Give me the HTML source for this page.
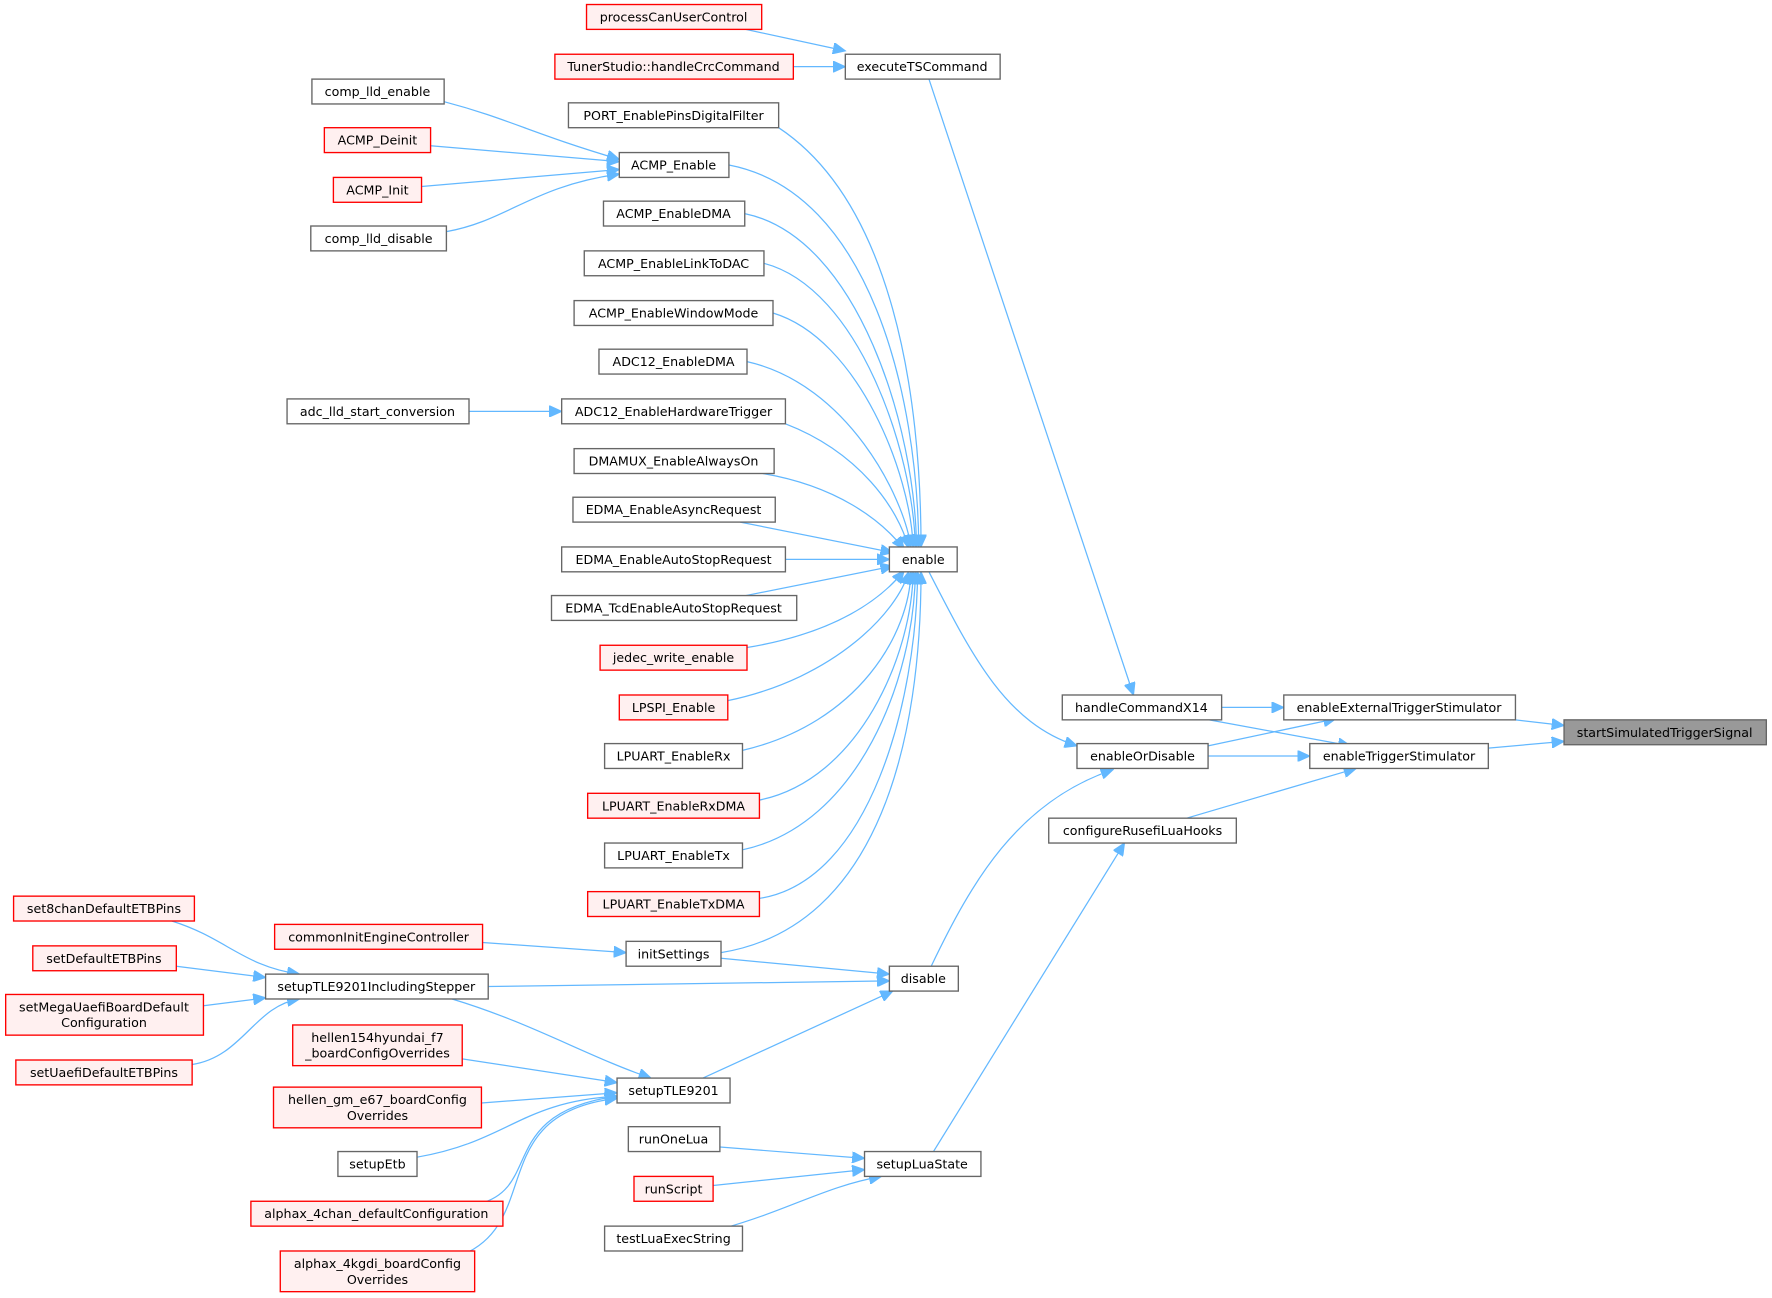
<!DOCTYPE html>
<html><head><meta charset="utf-8"><style>
html,body{margin:0;padding:0;background:#fff;}
svg{display:block;}
text{font-family:"DejaVu Sans","Liberation Sans",sans-serif;font-size:11.2px;fill:#000;text-anchor:middle;}
.n{fill:#fff;stroke:#666;stroke-width:1.2;}
.r{fill:#fff0f0;stroke:#f00;stroke-width:1.2;}
.g{fill:#999;stroke:#666;stroke-width:1.2;}
.e{fill:none;stroke:#63b8ff;stroke-width:1.1;marker-end:url(#a);}
</style></head><body>
<svg width="1772" height="1298" viewBox="0 0 1568 1148.6" xmlns="http://www.w3.org/2000/svg">
<defs><marker id="a" markerUnits="userSpaceOnUse" markerWidth="12" markerHeight="10" refX="11" refY="5" orient="auto"><path d="M0,0 L11,5 L0,10 z" fill="#63b8ff" stroke="#63b8ff"/></marker></defs>

<!-- edges -->
<path class="e" d="M660,26 L748,45"/>
<path class="e" d="M702,59 L748,59"/>
<path class="e" d="M822,70 L1003,615"/>
<path class="e" d="M393,90 C450,105 470,118 548,141"/>
<path class="e" d="M381,129 L548,143"/>
<path class="e" d="M373,165 L548,150"/>
<path class="e" d="M395,205 C450,195 470,165 548,154"/>
<path class="e" d="M415,364 L497,364"/>
<path class="e" d="M689,113 C790,180 815,350 815,484"/>
<path class="e" d="M645,146 C770,170 812,350 813,484"/>
<path class="e" d="M659,189 C760,210 810,380 811,484"/>
<path class="e" d="M676,233 C760,255 808,400 810,484"/>
<path class="e" d="M684,277 C760,300 806,420 808,484"/>
<path class="e" d="M661,320 C750,340 800,440 806,484"/>
<path class="e" d="M695,375 C760,400 795,450 804,485"/>
<path class="e" d="M675,419 C740,430 780,460 800,486"/>
<path class="e" d="M655,462 L790,489"/>
<path class="e" d="M695,495 L787,495"/>
<path class="e" d="M655,528 L790,501"/>
<path class="e" d="M661,573 C740,560 780,530 800,505"/>
<path class="e" d="M644,620 C740,600 795,540 804,506"/>
<path class="e" d="M657,664 C760,640 805,560 806,506"/>
<path class="e" d="M672,708 C760,690 807,580 808,506"/>
<path class="e" d="M657,752 C760,730 809,600 810,506"/>
<path class="e" d="M672,795 C770,780 811,620 812,506"/>
<path class="e" d="M638,843 C780,820 815,650 815,506"/>
<path class="e" d="M822,506 C860,580 890,640 953,660"/>
<path class="e" d="M824,855 C860,780 900,710 985,681"/>
<path class="e" d="M1081,626 L1136,626"/>
<path class="e" d="M1070,637 L1195,660"/>
<path class="e" d="M1069,660 L1182,636"/>
<path class="e" d="M1069,669 L1159,669"/>
<path class="e" d="M1050,724 L1200,680"/>
<path class="e" d="M1341,637 L1384,642"/>
<path class="e" d="M1317,662 L1384,656"/>
<path class="e" d="M826,1019 L995,746"/>
<path class="e" d="M152,815 C200,830 215,855 265,862"/>
<path class="e" d="M156,855 L235,865"/>
<path class="e" d="M180,890 L235,883"/>
<path class="e" d="M170,942 C215,935 225,890 265,884"/>
<path class="e" d="M427,834 L554,843"/>
<path class="e" d="M638,848 L787,862"/>
<path class="e" d="M432,873 L787,868"/>
<path class="e" d="M622,954 L790,877"/>
<path class="e" d="M400,884 C470,905 520,935 576,954"/>
<path class="e" d="M409,937 L546,958"/>
<path class="e" d="M426,976 L546,967"/>
<path class="e" d="M369,1024 C450,1010 460,975 546,970"/>
<path class="e" d="M425,1065 C480,1050 440,985 546,970"/>
<path class="e" d="M410,1110 C480,1080 430,985 546,972"/>
<path class="e" d="M637,1015 L765,1025"/>
<path class="e" d="M631,1049 L765,1035"/>
<path class="e" d="M640,1087 C700,1070 730,1050 780,1041"/>

<!-- nodes -->
<g>
<rect class="r" x="519" y="4" width="155" height="22"/><text x="596" y="19">processCanUserControl</text>
<rect class="r" x="491" y="48" width="211" height="22"/><text x="596" y="63">TunerStudio::handleCrcCommand</text>
<rect class="n" x="748" y="48" width="137" height="22"/><text x="816" y="63">executeTSCommand</text>
<rect class="n" x="503" y="91" width="186" height="22"/><text x="596" y="106">PORT_EnablePinsDigitalFilter</text>
<rect class="n" x="276" y="70" width="117" height="22"/><text x="334" y="85">comp_lld_enable</text>
<rect class="r" x="287" y="113" width="94" height="22"/><text x="334" y="128">ACMP_Deinit</text>
<rect class="r" x="295" y="157" width="78" height="22"/><text x="334" y="172">ACMP_Init</text>
<rect class="n" x="275" y="200" width="120" height="22"/><text x="335" y="215">comp_lld_disable</text>
<rect class="n" x="548" y="135" width="97" height="22"/><text x="596" y="150">ACMP_Enable</text>
<rect class="n" x="534" y="178" width="125" height="22"/><text x="596" y="193">ACMP_EnableDMA</text>
<rect class="n" x="517" y="222" width="159" height="22"/><text x="596" y="237">ACMP_EnableLinkToDAC</text>
<rect class="n" x="508" y="266" width="176" height="22"/><text x="596" y="281">ACMP_EnableWindowMode</text>
<rect class="n" x="530" y="309" width="131" height="22"/><text x="596" y="324">ADC12_EnableDMA</text>
<rect class="n" x="254" y="353" width="161" height="22"/><text x="334" y="368">adc_lld_start_conversion</text>
<rect class="n" x="497" y="353" width="198" height="22"/><text x="596" y="368">ADC12_EnableHardwareTrigger</text>
<rect class="n" x="508" y="397" width="177" height="22"/><text x="596" y="412">DMAMUX_EnableAlwaysOn</text>
<rect class="n" x="507" y="440" width="179" height="22"/><text x="596" y="455">EDMA_EnableAsyncRequest</text>
<rect class="n" x="497" y="484" width="198" height="22"/><text x="596" y="499">EDMA_EnableAutoStopRequest</text>
<rect class="n" x="488" y="527" width="217" height="22"/><text x="596" y="542">EDMA_TcdEnableAutoStopRequest</text>
<rect class="r" x="531" y="571" width="130" height="22"/><text x="596" y="586">jedec_write_enable</text>
<rect class="r" x="548" y="615" width="96" height="22"/><text x="596" y="630">LPSPI_Enable</text>
<rect class="n" x="535" y="658" width="122" height="22"/><text x="596" y="673">LPUART_EnableRx</text>
<rect class="r" x="520" y="702" width="152" height="22"/><text x="596" y="717">LPUART_EnableRxDMA</text>
<rect class="n" x="535" y="746" width="122" height="22"/><text x="596" y="761">LPUART_EnableTx</text>
<rect class="r" x="520" y="789" width="152" height="22"/><text x="596" y="804">LPUART_EnableTxDMA</text>
<rect class="n" x="787" y="484" width="60" height="22"/><text x="817" y="499">enable</text>
<rect class="n" x="940" y="615" width="141" height="22"/><text x="1010" y="630">handleCommandX14</text>
<rect class="n" x="953" y="658" width="116" height="22"/><text x="1011" y="673">enableOrDisable</text>
<rect class="n" x="1136" y="615" width="205" height="22"/><text x="1238" y="630">enableExternalTriggerStimulator</text>
<rect class="n" x="1159" y="658" width="158" height="22"/><text x="1238" y="673">enableTriggerStimulator</text>
<rect class="g" x="1384" y="637" width="179" height="22"/><text x="1473" y="652">startSimulatedTriggerSignal</text>
<rect class="n" x="928" y="724" width="166" height="22"/><text x="1011" y="739">configureRusefiLuaHooks</text>
<rect class="r" x="12" y="793" width="160" height="22"/><text x="92" y="808">set8chanDefaultETBPins</text>
<rect class="r" x="29" y="837" width="127" height="22"/><text x="92" y="852">setDefaultETBPins</text>
<rect class="r" x="5" y="880" width="175" height="36"/><text x="92" y="895">setMegaUaefiBoardDefault</text><text x="92" y="909">Configuration</text>
<rect class="r" x="14" y="938" width="156" height="22"/><text x="92" y="953">setUaefiDefaultETBPins</text>
<rect class="r" x="243" y="818" width="184" height="22"/><text x="335" y="833">commonInitEngineController</text>
<rect class="n" x="554" y="833" width="84" height="22"/><text x="596" y="848">initSettings</text>
<rect class="n" x="235" y="862" width="197" height="22"/><text x="333" y="877">setupTLE9201IncludingStepper</text>
<rect class="n" x="787" y="855" width="61" height="22"/><text x="817" y="870">disable</text>
<rect class="r" x="259" y="907" width="150" height="36"/><text x="334" y="922">hellen154hyundai_f7</text><text x="334" y="936">_boardConfigOverrides</text>
<rect class="r" x="242" y="962" width="184" height="36"/><text x="334" y="977">hellen_gm_e67_boardConfig</text><text x="334" y="991">Overrides</text>
<rect class="n" x="546" y="954" width="100" height="22"/><text x="596" y="969">setupTLE9201</text>
<rect class="n" x="299" y="1019" width="70" height="22"/><text x="334" y="1034">setupEtb</text>
<rect class="r" x="222" y="1063" width="223" height="22"/><text x="333" y="1078">alphax_4chan_defaultConfiguration</text>
<rect class="r" x="248" y="1107" width="172" height="36"/><text x="334" y="1122">alphax_4kgdi_boardConfig</text><text x="334" y="1136">Overrides</text>
<rect class="n" x="556" y="997" width="81" height="22"/><text x="596" y="1012">runOneLua</text>
<rect class="r" x="561" y="1041" width="70" height="22"/><text x="596" y="1056">runScript</text>
<rect class="n" x="535" y="1085" width="122" height="22"/><text x="596" y="1100">testLuaExecString</text>
<rect class="n" x="765" y="1019" width="103" height="22"/><text x="816" y="1034">setupLuaState</text>
</g>
</svg>
</body></html>
